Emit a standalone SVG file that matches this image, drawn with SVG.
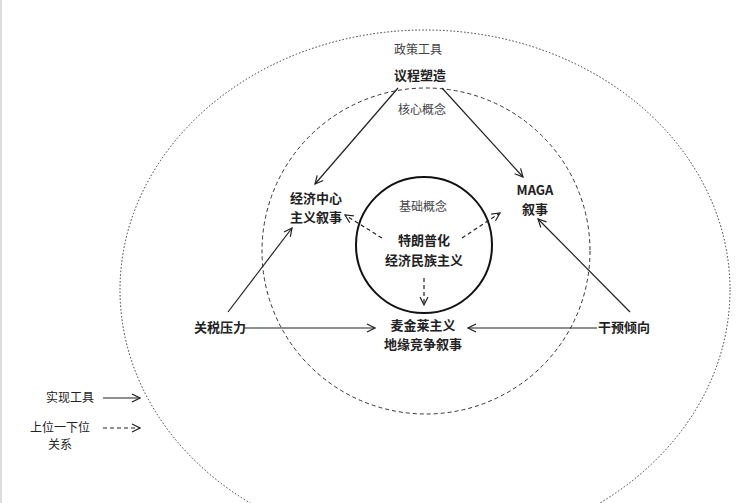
<svg xmlns="http://www.w3.org/2000/svg" width="736" height="503" viewBox="0 0 736 503">
<defs>
<marker id="a" markerWidth="10" markerHeight="10" refX="9" refY="5" orient="auto" markerUnits="userSpaceOnUse"><path d="M1,1 L9,5 L1,9" fill="none" stroke="#222" stroke-width="1.2"/></marker>
</defs>
<style>
text{font-family:"Noto Sans CJK SC","Liberation Sans",sans-serif;fill:#222;text-anchor:middle}
.b{font-weight:bold;font-size:13px}
.n{font-size:12px;fill:#444}
.s{stroke:#222;stroke-width:1.2;fill:none;marker-end:url(#a)}
.d{stroke:#222;stroke-width:1.2;fill:none;stroke-dasharray:4 3;marker-end:url(#a)}
</style>
<rect width="736" height="503" fill="#fff"/>
<line x1="1" y1="0" x2="1" y2="503" stroke="#bbb"/>
<g id="rings">
<ellipse cx="425" cy="290" rx="305" ry="260" fill="none" stroke="#333" stroke-width="1" stroke-dasharray="1.5 2"/>
<ellipse cx="426" cy="251" rx="164" ry="163" fill="none" stroke="#333" stroke-width="1" stroke-dasharray="4 3"/>
<circle cx="424" cy="245" r="68" fill="none" stroke="#111" stroke-width="2"/>
</g>
<g id="labels">
<text class="n" x="418" y="54">政策工具</text>
<text class="n" x="422" y="114">核心概念</text>
<text class="n" x="423" y="211">基础概念</text>
</g>
<g id="n1"><text class="b" x="420" y="80">议程塑造</text></g>
<g id="n2"><text class="b" x="316" y="203">经济中心</text><text class="b" x="316" y="222">主义叙事</text></g>
<g id="n3"><text class="b" x="535" y="195">MAGA</text><text class="b" x="535" y="214">叙事</text></g>
<g id="n4"><text class="b" x="424" y="245">特朗普化</text><text class="b" x="424" y="265">经济民族主义</text></g>
<g id="n5"><text class="b" x="220" y="332">关税压力</text></g>
<g id="n6"><text class="b" x="624" y="332">干预倾向</text></g>
<g id="n7"><text class="b" x="423" y="330">麦金莱主义</text><text class="b" x="423" y="349">地缘竞争叙事</text></g>
<g id="connectors">
<line class="s" x1="398" y1="88" x2="315" y2="184"/>
<line class="s" x1="442" y1="88" x2="523" y2="177"/>
<line class="s" x1="228" y1="312" x2="292" y2="228"/>
<line class="s" x1="244" y1="328" x2="375" y2="328"/>
<line class="s" x1="630" y1="312" x2="538" y2="219"/>
<line class="s" x1="597" y1="328" x2="468" y2="328"/>
<line class="d" x1="382" y1="238" x2="345" y2="215"/>
<line class="d" x1="462" y1="238" x2="500" y2="213"/>
<line class="d" x1="424" y1="278" x2="424" y2="305"/>
</g>
<g id="legend">
<text x="70" y="402" style="font-size:12px">实现工具</text>
<line class="s" x1="103" y1="398" x2="140" y2="398"/>
<text x="60" y="432" style="font-size:12px">上位一下位</text>
<text x="60" y="449" style="font-size:12px">关系</text>
<line class="d" x1="103" y1="428" x2="140" y2="428"/>
</g>
</svg>
